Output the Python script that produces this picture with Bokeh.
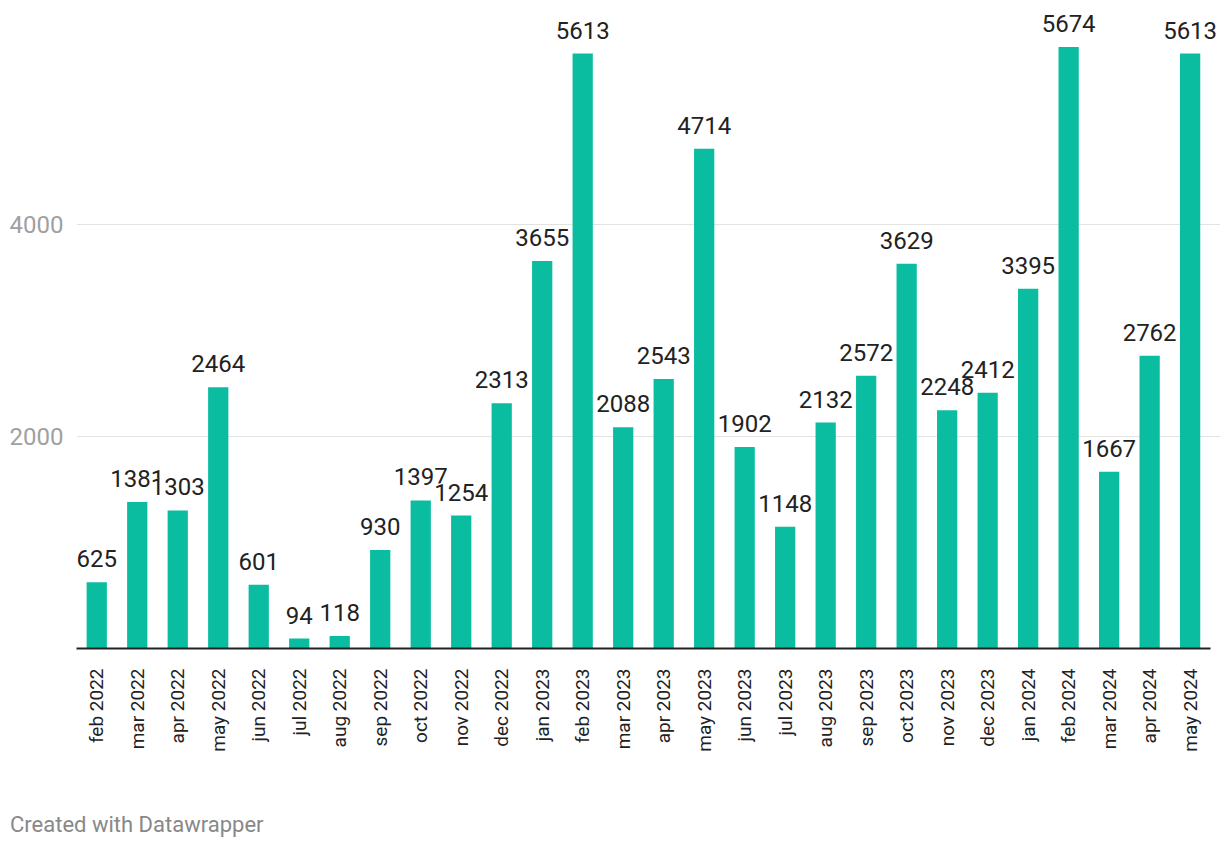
import math
from bokeh.plotting import figure
from bokeh.layouts import column
from bokeh.models import ColumnDataSource, FixedTicker, LabelSet, Div
from bokeh.core.properties import value
from bokeh.embed import file_html
from bokeh.resources import INLINE

months = ["feb 2022", "mar 2022", "apr 2022", "may 2022", "jun 2022", "jul 2022",
          "aug 2022", "sep 2022", "oct 2022", "nov 2022", "dec 2022", "jan 2023",
          "feb 2023", "mar 2023", "apr 2023", "may 2023", "jun 2023", "jul 2023",
          "aug 2023", "sep 2023", "oct 2023", "nov 2023", "dec 2023", "jan 2024",
          "feb 2024", "mar 2024", "apr 2024", "may 2024"]
counts = [625, 1381, 1303, 2464, 601, 94, 118, 930, 1397, 1254, 2313, 3655,
          5613, 2088, 2543, 4714, 1902, 1148, 2132, 2572, 3629, 2248, 2412, 3395,
          5674, 1667, 2762, 5613]
y_ticks = [2000, 4000]

FONT = "Roboto"
xs = list(range(len(months)))
src = ColumnDataSource(dict(x=xs, v=counts, t=[str(c) for c in counts]))

p = figure(width=1220, height=800, x_range=(-0.5, len(months) - 0.25), y_range=(0, 6019),
           output_backend="svg", toolbar_location=None,
           min_border_left=76, min_border_right=0, min_border_top=10,
           min_border_bottom=152)
p.outline_line_color = None
p.background_fill_color = "white"
p.border_fill_color = "white"

p.vbar(x="x", top="v", width=0.5, source=src, color="#0abda0", line_color=None)
labels = LabelSet(x="x", y="v", text="t", source=src, text_align="center",
                  text_baseline="alphabetic", y_offset=15, text_color="#222222",
                  text_font=value(FONT), text_font_size="24px",
                  background_fill_color="white")
p.add_layout(labels)

p.xgrid.grid_line_color = None
p.ygrid.ticker = FixedTicker(ticks=y_ticks)
p.ygrid.grid_line_color = "#e3e3e3"
p.ygrid.grid_line_width = 1

ya = p.yaxis[0]
ya.ticker = FixedTicker(ticks=y_ticks)
ya.axis_line_color = None
ya.major_tick_line_color = None
ya.minor_tick_line_color = None
ya.major_label_text_color = "#a0a0a0"
ya.major_label_text_font = FONT
ya.major_label_text_font_size = "24px"
ya.major_label_standoff = 7

xa = p.xaxis[0]
xa.ticker = FixedTicker(ticks=xs)
xa.major_label_overrides = {i: m for i, m in zip(xs, months)}
xa.bounds = (-0.5, len(months) - 0.5)
xa.axis_line_color = "#222222"
xa.axis_line_width = 2
xa.major_tick_line_color = None
xa.minor_tick_line_color = None
xa.major_label_orientation = math.pi / 2
xa.major_label_text_color = "#222222"
xa.major_label_text_font = FONT
xa.major_label_text_font_size = "19px"
xa.major_label_standoff = 14

credit = Div(text="Created with Datawrapper", width=1210, height=50,
             margin=(0, 0, 0, 10),
             styles={"font-family": "Roboto", "font-size": "22px",
                     "color": "#888888", "line-height": "50px"})

layout = column(p, credit, spacing=0)
open("out.html", "w").write(file_html(layout, INLINE))
